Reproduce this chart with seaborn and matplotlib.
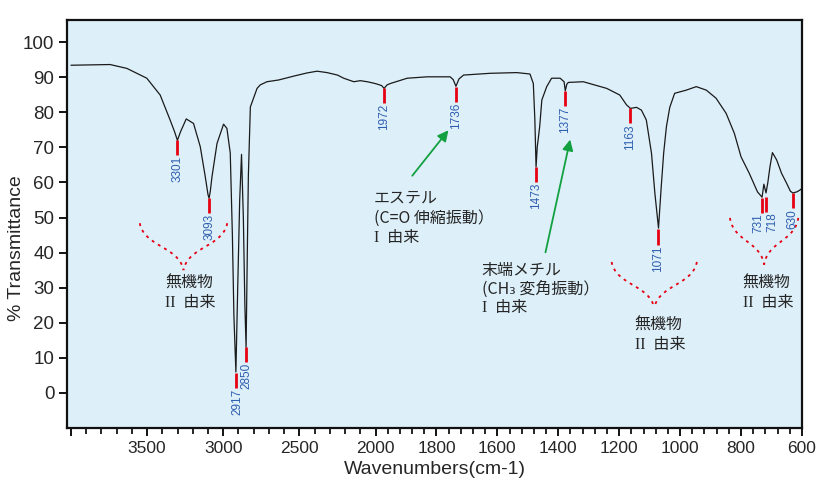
import numpy as np
import matplotlib
matplotlib.use("Agg")
import matplotlib.pyplot as plt
import seaborn as sns
from matplotlib.transforms import offset_copy

# spectrum
wavenumber = [4000, 3743, 3633, 3502, 3414, 3349, 3320, 3301, 3280, 3243, 3195, 3151, 3118, 3100,
              3093, 3085, 3074, 3041, 2998, 2976, 2954, 2940, 2930, 2917, 2905, 2892, 2880, 2868,
              2858, 2850, 2842, 2835, 2822, 2778, 2757, 2713, 2636, 2537, 2450, 2384, 2318, 2250,
              2209, 2143, 2100, 2055, 2013, 1994, 1980, 1972, 1962, 1951, 1896, 1830, 1787, 1755,
              1745, 1736, 1726, 1711, 1624, 1536, 1493, 1482, 1477, 1473, 1469, 1465, 1461, 1454,
              1438, 1422, 1394, 1381, 1377, 1372, 1367, 1318, 1241, 1198, 1176, 1163, 1143, 1127,
              1111, 1094, 1083, 1071, 1062, 1054, 1045, 1034, 1018, 980, 947, 914, 882, 849, 822,
              800, 773, 746, 731, 725, 718, 712, 705, 697, 683, 667, 650, 638, 630, 617, 607, 600]
transmittance = [93.4, 93.6, 92.5, 89.7, 84.9, 77.8, 74.5, 72.0, 74.5, 78.1, 76.8, 70.2, 61.6, 56.5,
                 55.5, 57.5, 61.6, 71.1, 76.6, 75.4, 68.4, 45.0, 22.0, 6.0, 30.0, 55.0, 68.0, 50.0,
                 25.0, 13.0, 40.0, 62.0, 81.5, 86.8, 87.8, 88.7, 89.2, 90.3, 91.2, 91.7, 91.3, 90.6,
                 89.7, 88.7, 89.0, 88.7, 88.3, 88.0, 87.6, 86.8, 87.8, 88.2, 89.7, 90.1, 90.1, 90.1,
                 89.3, 87.4, 89.5, 90.6, 91.1, 91.3, 90.9, 88.2, 78.0, 64.4, 70.2, 73.0, 76.0, 83.5,
                 87.3, 89.7, 89.7, 88.7, 86.1, 88.0, 88.5, 88.7, 86.8, 84.9, 82.1, 81.1, 81.4, 80.6,
                 77.8, 68.3, 57.0, 47.0, 58.8, 68.4, 75.9, 81.4, 85.4, 86.3, 87.3, 86.3, 84.0, 79.7, 74.0,
                 67.3, 62.6, 57.3, 55.8, 59.5, 57.0, 60.0, 64.5, 68.5, 66.4, 62.6, 59.7, 57.5, 57.0, 57.3,
                 57.8, 58.3]

peak_wn = [3301, 3093, 2917, 2850, 1972, 1736, 1473, 1377, 1163, 1071, 731, 718, 630]
peak_t = [72.0, 55.5, 5.7, 13.0, 86.8, 87.3, 64.4, 86.1, 81.1, 46.6, 55.6, 55.9, 57.0]
peak_labels = [str(p) for p in peak_wn]
# sideways nudge of a few labels (pixels) so the close pair stays readable
label_dx = [0, 0, 1.5, 0.5, 0, 0, 0, 0, 0, 0, -3.5, 6.5, 0]

major_ticks = [4000, 3500, 3000, 2500, 2000, 1800, 1600, 1400, 1200, 1000, 800, 600]
major_labels = ["", "3500", "3000", "2500", "2000", "1800", "1600", "1400", "1200", "1000", "800", "600"]
y_ticks = list(range(0, 101, 10))

BG = "#DDF0FA"
RED = "#E60012"
BLUE = "#2F5DAE"
GREEN = "#12A040"

sns.set_style("ticks")
plt.rcParams["font.family"] = ["Liberation Sans", "DejaVu Sans"]
JP = ["Noto Sans CJK JP", "DejaVu Sans"]
ROMAN = ["Liberation Serif", "Noto Sans CJK JP"]


def fwd(w):
    w = np.asarray(w, dtype=float)
    return np.where(w > 2000, 2000 + (w - 2000) / 2, w)


def inv(t):
    t = np.asarray(t, dtype=float)
    return np.where(t > 2000, 2000 + (t - 2000) * 2, t)


def brace(ax, x0, x1, ytop, ybot):
    t = np.linspace(0, 1, 50)
    bx = 3 * (1 - t) ** 2 * t * 0.1 + 3 * (1 - t) * t ** 2 * 0.9 + t ** 3
    by = 3 * (1 - t) ** 2 * t * 0.5 + 3 * (1 - t) * t ** 2 * 0.5 + t ** 3
    hw = (x1 - x0) / 2
    yy = ytop - by * (ytop - ybot)
    for xs in (x0 + bx * hw, x1 - bx * hw):
        ax.plot(xs, yy, transform=ax.transAxes, color=RED, lw=1.3,
                ls=(0, (1.6, 2.4)), clip_on=False)


def note(ax, x, ys, lines, roman):
    # every line but the last is sans; the last starts with a serif roman numeral
    for y, line in zip(ys[:-1], lines):
        ax.text(x, y, line, family=JP, fontsize=11.5, ha="left", va="center")
    ax.text(x, ys[-1], roman + "\u2002由来", family=ROMAN, fontsize=11.5, ha="left", va="center")


fig = plt.figure(figsize=(8.2, 4.87), dpi=100)
ax = fig.add_axes([0.0817, 0.121, 0.8963, 0.838])
ax.set_facecolor(BG)
ax.set_xscale("function", functions=(fwd, inv))

sns.lineplot(x=wavenumber, y=transmittance, sort=False, estimator=None,
             color="#1a1a1a", lw=0.9, ax=ax)

ax.vlines(peak_wn, np.array(peak_t) - 4.3, peak_t, color=RED, lw=2)
for w, t, lab, dx in zip(peak_wn, peak_t, peak_labels, label_dx):
    tr = offset_copy(ax.transData, fig=fig, x=dx, y=0, units="dots")
    ax.text(w, t - 4.5, lab, rotation=90, ha="center", va="top", color=BLUE,
            fontsize=8.5, transform=tr)

ax.set_xlim(4026, 600)
ax.set_ylim(-10, 106.3)
ax.set_xticks(major_ticks)
ax.set_xticklabels(major_labels, fontsize=12.5)
minor = list(range(4000, 2000, -100)) + list(range(2000, 599, -40))
ax.set_xticks(minor, minor=True)
ax.set_yticks(y_ticks)
ax.set_yticklabels([str(v) for v in y_ticks], fontsize=13.5)
ax.tick_params(axis="both", which="major", direction="out", length=6, width=1.3, color="black", pad=3)
ax.tick_params(axis="x", which="minor", direction="out", length=4.5, width=1.2, color="black")
for s in ax.spines.values():
    s.set_visible(True)
    s.set_color("#111111")
    s.set_linewidth(1.6)

ax.set_xlabel("Wavenumbers(cm-1)", fontsize=14, labelpad=4)
ax.set_ylabel("% Transmittance", fontsize=14)
ax.yaxis.set_label_coords(-0.057, 0.44)

# annotations
note(ax, 2013, [55.6, 49.9, 44.2], ["エステル", "(C=O 伸縮振動）"], "I")
ax.annotate("", xy=(1755, 75.5), xytext=(1885, 61.3),
            arrowprops=dict(arrowstyle="-|>", color=GREEN, lw=1.3, mutation_scale=16))
note(ax, 1651, [35.0, 29.6, 24.2], ["末端メチル", "(CH\u2083 変角振動）"], "I")
ax.annotate("", xy=(1359, 73.0), xytext=(1444, 39.3),
            arrowprops=dict(arrowstyle="-|>", color=GREEN, lw=1.3, mutation_scale=16))

for x, y in [(3382, 31.3), (1149, 19.4), (795, 31.3)]:
    note(ax, x, [y, y - 5.7], ["無機物"], "II")

brace(ax, 0.099, 0.218, 0.502, 0.387)
brace(ax, 0.741, 0.857, 0.407, 0.294)
brace(ax, 0.902, 0.995, 0.515, 0.400)

fig.savefig("out.png", dpi=100)
